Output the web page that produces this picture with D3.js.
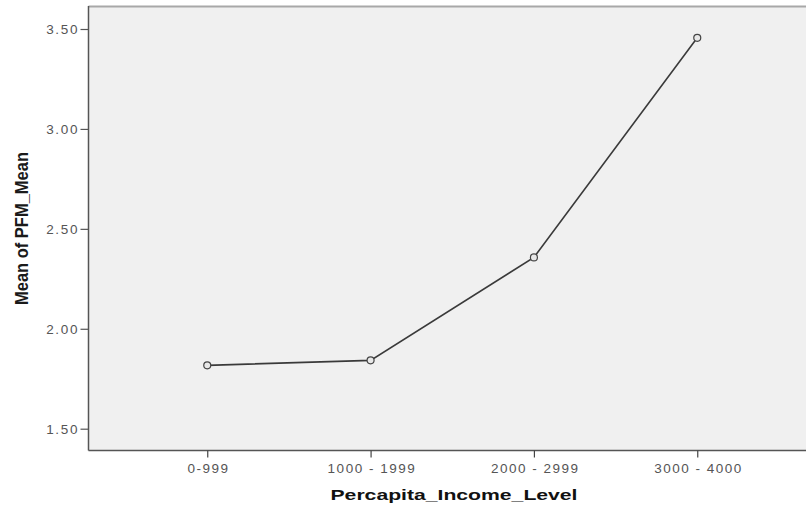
<!DOCTYPE html>
<html>
<head>
<meta charset="utf-8">
<script src="https://cdn.jsdelivr.net/npm/d3@7"></script>
<style>
  html, body { margin: 0; padding: 0; background: #fff; }
  svg { display: block; }
</style>
</head>
<body>
<svg id="chart" width="806" height="514"></svg>
<script>
const categories = ["0-999", "1000 - 1999", "2000 - 2999", "3000 - 4000"];
const meanValues = [1.817, 1.842, 2.357, 3.456];
const yTickValues = [1.5, 2.0, 2.5, 3.0, 3.5];
const xTitle = "Percapita_Income_Level";
const yTitle = "Mean of PFM_Mean";

(function () {
const svg = d3.select("#chart");
const pLeft = 88.5, pTop = 6, pBottom = 450.5, pRight = 816;
const tickFont = "Liberation Sans, Arial, sans-serif";

const x = d3.scalePoint().domain(categories).range([pLeft, pRight]).padding(0.727);
const y = d3.scaleLinear().domain([1.5, 3.5]).range([428.7, 29]);

// plot background
svg.append("rect")
  .attr("x", pLeft).attr("y", pTop)
  .attr("width", 806 - pLeft).attr("height", pBottom - pTop)
  .attr("fill", "#f0f0f0");

// top border
svg.append("line")
  .attr("x1", pLeft).attr("x2", 806)
  .attr("y1", pTop + 0.5).attr("y2", pTop + 0.5)
  .attr("stroke", "#a8a8a8").attr("stroke-width", 2);

// y axis
const yAxis = svg.append("g")
  .attr("transform", `translate(${pLeft},0)`)
  .call(d3.axisLeft(y).tickValues(yTickValues).tickFormat(d3.format(".2f")).tickSize(8).tickSizeOuter(0));
yAxis.select(".domain").attr("stroke", "#555").attr("stroke-width", 1.5)
  .attr("d", `M0,${pTop}V${pBottom}`);
yAxis.selectAll(".tick line").attr("stroke", "#555").attr("stroke-width", 1.2);
yAxis.selectAll(".tick text")
  .attr("x", -9.3).attr("dy", "0.36em")
  .attr("fill", "#555")
  .style("font-family", tickFont).style("font-size", "13.5px").style("letter-spacing", "1.7px");

// x axis
const xAxis = svg.append("g")
  .attr("transform", `translate(0,${pBottom})`)
  .call(d3.axisBottom(x).tickSize(7).tickSizeOuter(0));
xAxis.select(".domain").attr("stroke", "#555").attr("stroke-width", 1.5)
  .attr("d", `M${pLeft},0H806`);
xAxis.selectAll(".tick line").attr("stroke", "#444").attr("stroke-width", 1.2);
xAxis.selectAll(".tick text")
  .attr("y", 22.5).attr("dy", "0").attr("dx", "0.8")
  .attr("fill", "#555")
  .style("font-family", tickFont).style("font-size", "13.5px").style("letter-spacing", "1.5px");

// line
const line = d3.line().x((d, i) => x(categories[i])).y(d => y(d));
svg.append("path")
  .datum(meanValues)
  .attr("d", line)
  .attr("fill", "none")
  .attr("stroke", "#3a3a3a")
  .attr("stroke-width", 1.6);

// markers
svg.selectAll("circle.pt")
  .data(meanValues)
  .enter().append("circle")
  .attr("class", "pt")
  .attr("cx", (d, i) => x(categories[i]))
  .attr("cy", d => y(d))
  .attr("r", 3.5)
  .attr("fill", "#e8e8e8")
  .attr("stroke", "#444")
  .attr("stroke-width", 1.2);

// axis titles
svg.append("text")
  .attr("x", 454).attr("y", 500)
  .attr("text-anchor", "middle")
  .attr("textLength", 247).attr("lengthAdjust", "spacingAndGlyphs")
  .style("font-family", "Liberation Sans, Arial, sans-serif")
  .style("font-size", "15px").style("font-weight", "bold")
  .attr("fill", "#111")
  .text(xTitle);

svg.append("text")
  .attr("transform", "translate(28,228.5) rotate(-90)")
  .attr("text-anchor", "middle")
  .attr("textLength", 153).attr("lengthAdjust", "spacingAndGlyphs")
  .style("font-family", "Liberation Sans, Arial, sans-serif")
  .style("font-size", "19px")
  .style("font-weight", "bold")
  .attr("fill", "#1a1a1a")
  .text(yTitle);
})();
</script>
</body>
</html>
